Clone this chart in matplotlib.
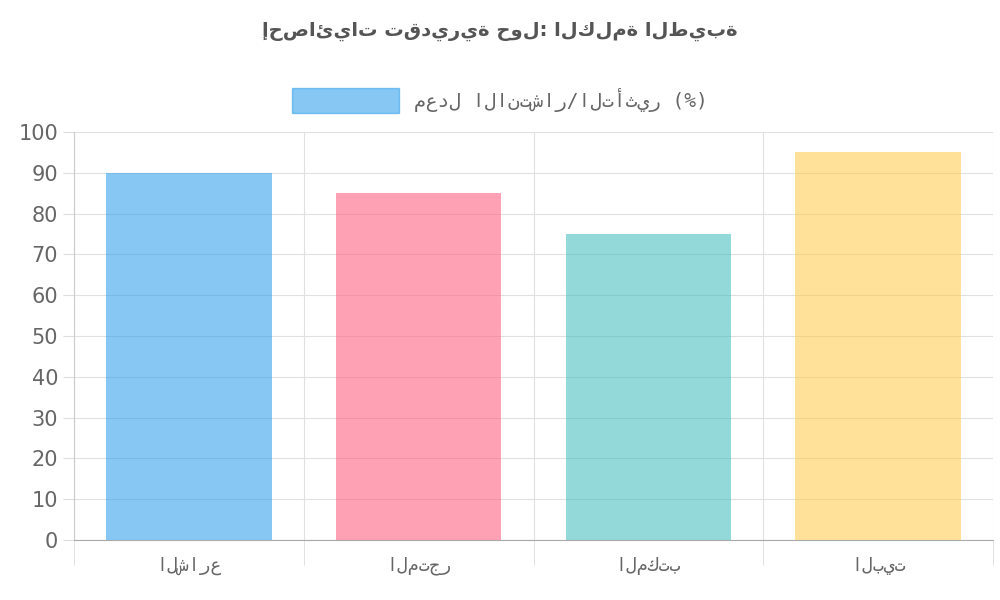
import matplotlib
matplotlib.use("Agg")
import matplotlib.pyplot as plt
from matplotlib.patches import Patch

# data
categories = ["الشارع", "المتجر", "المكتب", "البيت"]
values = [90, 85, 75, 95]
series_label = "معدل الانتشار/التأثير (%)"
title = "إحصائيات تقديرية حول: الكلمة الطيبة"

fills = [(54/255, 162/255, 235/255, 0.6), (255/255, 99/255, 132/255, 0.6),
         (75/255, 192/255, 192/255, 0.6), (255/255, 206/255, 86/255, 0.6)]
mono = ["DejaVu Sans Mono", "DejaVu Sans"]

fig = plt.figure(figsize=(10, 6), dpi=100)
ax = fig.add_axes([0.074, 0.10, 0.919, 0.68])

x = list(range(len(categories)))
ax.bar(x, values, width=0.72, color=fills, zorder=3)

ax.set_xlim(-0.5, len(categories) - 0.5)
ax.set_ylim(0, 100)
ax.set_yticks(range(0, 101, 10))
ax.set_xticks(x)
ax.set_xticklabels(categories, family=mono, fontsize=13, color="#666666")
ax.tick_params(axis="y", labelsize=15, colors="#666666", length=8, color="#dddddd")
ax.tick_params(axis="x", length=0, pad=12)
ax.set_xticks([i - 0.5 for i in range(len(categories) + 1)], minor=True)
ax.tick_params(axis="x", which="minor", length=18, color="#dddddd")
ax.grid(axis="y", color="#e0e0e0", zorder=0)
ax.grid(axis="x", which="minor", color="#e0e0e0", zorder=0)
for s in ["top", "right"]:
    ax.spines[s].set_visible(False)
ax.spines["left"].set_color("#cccccc")
ax.spines["bottom"].set_color("#aaaaaa")

fig.text(0.5, 0.94, title, ha="center", fontsize=14, fontweight="bold", color="#555555")
fig.legend(handles=[Patch(color=fills[0])], labels=[series_label],
           loc="center", bbox_to_anchor=(0.5, 0.833), frameon=False,
           handlelength=5.5, handleheight=1.6,
           prop={"family": mono, "size": 14}, labelcolor="#666666")

fig.savefig("out.png")
